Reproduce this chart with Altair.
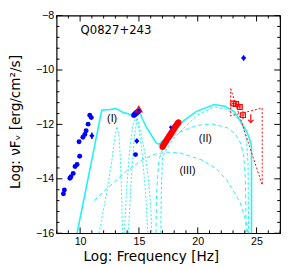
import altair as alt
import pandas as pd

# ---------------- data ----------------
# radio / IR / optical (blue dots)
blue_x = [8.58, 8.66, 9.13, 9.22, 9.41, 9.57, 9.74, 9.96, 9.91, 10.24, 10.40, 10.51, 10.68, 10.82, 10.95]
blue_y = [-14.55, -14.41, -13.98, -13.92, -13.80, -13.55, -13.47, -13.17, -12.64, -12.47, -12.37, -12.23, -11.99, -11.66, -11.75]
# blue points with error bars
blueerr_x = [11.0, 14.82]
blueerr_y = [-12.42, -12.61]
blueerr_e = [0.12, 0.08]
blue_single_x = [14.71]
blue_single_y = [-13.11]
# optical/UV spectrum (blue blob)
uv_x = [14.57, 14.62, 14.67, 14.72, 14.77, 14.82, 14.87, 14.92, 14.97]
uv_y = [-11.66, -11.64, -11.62, -11.60, -11.58, -11.56, -11.54, -11.52, -11.50]
# open red triangle
tri_x = [14.99]
tri_y = [-11.44]
# X-ray spectrum (red)
xr_x = [17.0, 17.08, 17.16, 17.24, 17.32, 17.4, 17.48, 17.56, 17.64, 17.72, 17.8, 17.88, 17.96, 18.04, 18.12, 18.2, 18.28, 18.36]
xr_y = [-12.82, -12.77, -12.71, -12.66, -12.61, -12.55, -12.50, -12.44, -12.39, -12.34, -12.28, -12.23, -12.18, -12.12, -12.07, -12.02, -11.97, -11.93]
# small blue point over X-ray
xb_x = [17.7]
xb_y = [-12.1]
# Fermi points (open red squares)
fermi_x = [23.02, 23.27, 23.58, 23.85]
fermi_y = [-11.23, -11.25, -11.36, -11.66]
fermi_ey = [0.11, 0.1, 0.1, 0.15]
fermi_ex = [0.12, 0.12, 0.12, 0.12]
# Fermi upper limit
ul_x = [24.51]
ul_top = [-11.63]
ul_bot = [-11.93]
# red dotted bow tie (outline)
bow_x = [22.8, 23.5, 25.48, 25.48, 23.5, 22.8, 22.8]
bow_y = [-10.69, -11.61, -11.40, -14.23, -11.61, -11.69, -10.69]
# blue diamond (top)
dia_x = [23.9]
dia_y = [-9.56]

# model curves (cyan)
tot_x = [9.74, 11.84, 12.58, 13.0, 13.27, 13.6, 14.0, 14.52, 14.75, 15.07, 15.3, 15.62, 16.04, 16.45, 16.72, 17.0, 17.69, 18.8, 19.9, 21.42, 22.3, 23.08, 23.63, 24.18, 24.46, 24.57, 24.57]
tot_y = [-16.0, -11.48, -11.45, -11.42, -11.46, -11.55, -11.6, -11.69, -11.62, -11.55, -11.8, -12.09, -12.38, -12.67, -12.73, -12.61, -12.33, -11.86, -11.52, -11.27, -11.33, -11.52, -11.87, -12.27, -12.61, -12.8, -16.0]

s1_x = [11.6, 12.31, 12.72, 12.95, 13.12, 13.3, 13.42, 13.52, 13.6]
s1_y = [-16.0, -14.4, -13.25, -12.45, -12.08, -12.4, -13.25, -14.4, -16.0]
s2_x = [13.75, 13.95, 14.2, 14.45, 14.7, 14.95, 15.25, 15.55, 15.76]
s2_y = [-16.0, -14.4, -13.0, -12.1, -11.7, -12.0, -13.0, -14.4, -16.0]
s3_x = [14.1, 14.35, 14.6, 14.85, 15.1, 15.5, 15.8, 16.0, 16.1]
s3_y = [-16.0, -14.0, -12.5, -11.75, -12.2, -13.0, -14.0, -15.0, -16.0]

ec_x = [16.86, 16.9, 17.0, 17.5, 18.0, 18.9, 20.0, 21.4, 22.5, 23.1, 23.6, 23.9, 24.15, 24.28, 24.32]
ec_y = [-16.0, -14.5, -13.2, -12.8, -12.5, -12.1, -11.65, -11.35, -11.45, -11.63, -11.9, -12.15, -12.6, -13.5, -16.0]
c2_x = [16.45, 16.5, 16.7, 17.1, 18.2, 19.9, 21.2, 22.5, 23.2, 23.6, 23.9, 24.05, 24.12]
c2_y = [-16.0, -14.5, -13.3, -12.8, -12.33, -12.04, -11.98, -12.12, -12.35, -12.65, -13.1, -14.0, -16.0]
c3_x = [11.2, 12.3, 14.0, 15.3, 16.3, 17.4, 18.5, 20.3, 21.5, 22.5, 23.6, 24.0, 24.27]
c3_y = [-14.8, -14.35, -13.7, -13.3, -13.1, -13.02, -13.05, -13.3, -13.6, -14.06, -14.87, -15.4, -16.0]

lab_text = ["(I)", "(II)", "(III)"]
lab_x = [12.72, 20.65, 19.13]
lab_y = [-11.82, -12.53, -13.72]
name_text = ["Q0827+243"]
name_x = [10.04]
name_y = [-8.52]

x_major = [10, 15, 20, 25]
x_minor = [8, 9, 11, 12, 13, 14, 16, 17, 18, 19, 21, 22, 23, 24, 26, 27]
y_major = [-16, -14, -12, -10, -8]
y_minor = [-15.6, -15.2, -14.8, -14.4, -13.6, -13.2, -12.8, -12.4, -11.6, -11.2, -10.8, -10.4, -9.6, -9.2, -8.8, -8.4]

# ---------------- chart ----------------
W, H = 230, 224
CYAN = "#22f2f2"
BLUE = "#0000ff"
RED = "#ff0000"

xs = alt.Scale(domain=[8, 27], nice=False, zero=False)
ys = alt.Scale(domain=[-16, -8], nice=False, zero=False)

XTITLE = "Log: Frequency [Hz]"
YTITLE = "Log: \u03bdF\u1d65 [erg/cm\u00b2/s]"

xaxis = alt.Axis(values=x_major, format="d", ticks=False, grid=False, domain=False,
                 labelFont="Liberation Sans", labelFontSize=11, labelColor="black", labelPadding=3,
                 title=XTITLE, titleFont="DejaVu Sans", titleFontSize=14,
                 titleFontWeight="normal", titleColor="black", titleX=97, titleY=28,
                 titleBaseline="alphabetic", titleAlign="center")
yaxis = alt.Axis(values=y_major, format="d", ticks=False, grid=False, domain=False,
                 labelFont="Liberation Sans", labelFontSize=11, labelColor="black", labelPadding=3,
                 title=YTITLE, titleFont="DejaVu Sans", titleFontSize=14,
                 titleFontWeight="normal", titleColor="black", titleX=-42, titleY=H / 2 - 3,
                 titleBaseline="middle", titleAlign="center", titleAngle=-90)


def XF(f):
    return alt.X(f"{f}:Q", scale=xs, axis=xaxis, title=XTITLE)


def YF(f):
    return alt.Y(f"{f}:Q", scale=ys, axis=yaxis, title=YTITLE)


def df(xv, yv, **extra):
    d = pd.DataFrame({"x": xv, "y": yv})
    d["i"] = range(len(d))
    for k, v in extra.items():
        d[k] = v
    return d


def curve(xv, yv, dash, width):
    kw = dict(color=CYAN, strokeWidth=width, clip=True)
    if dash:
        kw["strokeDash"] = dash
    return alt.Chart(df(xv, yv)).mark_line(**kw).encode(x=XF("x"), y=YF("y"), order="i:Q")


def dots(xv, yv, shape, color, size, filled=True, sw=1):
    return alt.Chart(df(xv, yv)).mark_point(shape=shape, filled=filled, color=color, size=size,
                                             strokeWidth=sw, opacity=1).encode(x=XF("x"), y=YF("y"))


def vbars(d, color, sw):
    return alt.Chart(d).mark_rule(color=color, strokeWidth=sw).encode(x=XF("x"), y=YF("lo"), y2="hi:Q")


layers = []
# model components
layers.append(curve(s1_x, s1_y, [2, 2], 1))
layers.append(curve(s2_x, s2_y, [2, 2], 1))
layers.append(curve(s3_x, s3_y, [2, 2], 1))
layers.append(curve(c3_x, c3_y, [4, 3], 1))
layers.append(curve(c2_x, c2_y, [4, 3], 1))
layers.append(curve(ec_x, ec_y, [3, 2], 1))
layers.append(curve(tot_x, tot_y, None, 1.6))

# bow tie
layers.append(alt.Chart(df(bow_x, bow_y)).mark_line(color=RED, strokeWidth=1, strokeDash=[2, 2]).encode(
    x=XF("x"), y=YF("y"), order="i:Q"))

# blue points
layers.append(dots(blue_x, blue_y, "circle", BLUE, 26))
be = df(blueerr_x, blueerr_y, e=blueerr_e)
be["lo"] = be["y"] - be["e"]
be["hi"] = be["y"] + be["e"]
layers.append(vbars(be, BLUE, 1.5))
layers.append(dots(blueerr_x, blueerr_y, "diamond", BLUE, 30))
layers.append(dots(blue_single_x, blue_single_y, "circle", BLUE, 26))
layers.append(dots(uv_x, uv_y, "circle", BLUE, 30))
layers.append(dots(tri_x, tri_y, "triangle-up", RED, 45, filled=False, sw=1.2))

# X-ray
xr = df(xr_x, xr_y)
xr["lo"] = xr["y"] - 0.12
xr["hi"] = xr["y"] + 0.12
layers.append(vbars(xr, RED, 1.5))
layers.append(dots(xr_x, xr_y, "circle", RED, 40))
layers.append(dots(xb_x, xb_y, "diamond", BLUE, 14))

# Fermi
fe = df(fermi_x, fermi_y, ey=fermi_ey, ex=fermi_ex)
fe["lo"] = fe["y"] - fe["ey"]
fe["hi"] = fe["y"] + fe["ey"]
fe["l"] = fe["x"] - fe["ex"]
fe["r"] = fe["x"] + fe["ex"]
layers.append(vbars(fe, RED, 1))
layers.append(alt.Chart(fe).mark_rule(color=RED, strokeWidth=1).encode(x=XF("l"), x2="r:Q", y=YF("y")))
layers.append(dots(fermi_x, fermi_y, "square", RED, 24, filled=False, sw=1.2))
ul = pd.DataFrame({"x": ul_x, "lo": ul_bot, "hi": ul_top})
layers.append(vbars(ul, RED, 1.2))
layers.append(alt.Chart(ul).mark_point(shape="M-1,-1L0,0L1,-1", filled=False, color=RED, size=30,
                                       strokeWidth=1.2, opacity=1).encode(x=XF("x"), y=YF("lo")))

# blue diamond top
de = df(dia_x, dia_y)
de["lo"] = de["y"] - 0.1
de["hi"] = de["y"] + 0.1
layers.append(vbars(de, BLUE, 1.2))
layers.append(dots(dia_x, dia_y, "diamond", BLUE, 30))

# labels
lab = pd.DataFrame({"x": lab_x, "y": lab_y, "t": lab_text})
layers.append(alt.Chart(lab).mark_text(font="Liberation Sans", fontSize=11, color="black", align="center",
                                       baseline="middle").encode(x=XF("x"), y=YF("y"), text="t:N"))
nm = pd.DataFrame({"x": name_x, "y": name_y, "t": name_text})
layers.append(alt.Chart(nm).mark_text(font="DejaVu Sans", fontSize=12, color="black", align="left",
                                      baseline="middle").encode(x=XF("x"), y=YF("y"), text="t:N"))


# inward ticks on all four sides
def xticks(vals, ln):
    d = pd.DataFrame({"x": vals})
    b = alt.Chart(d).mark_rule(color="black", strokeWidth=1).encode(x=XF("x"), y=alt.value(H), y2=alt.value(H - ln))
    t = alt.Chart(d).mark_rule(color="black", strokeWidth=1).encode(x=XF("x"), y=alt.value(0), y2=alt.value(ln))
    return [b, t]


def yticks(vals, ln):
    d = pd.DataFrame({"y": vals})
    l = alt.Chart(d).mark_rule(color="black", strokeWidth=1).encode(y=YF("y"), x=alt.value(0), x2=alt.value(ln))
    r = alt.Chart(d).mark_rule(color="black", strokeWidth=1).encode(y=YF("y"), x=alt.value(W), x2=alt.value(W - ln))
    return [l, r]


layers += xticks(x_major, 6) + xticks(x_minor, 3) + yticks(y_major, 6) + yticks(y_minor, 3)

chart = alt.layer(*layers).properties(
    width=W, height=H,
    autosize=alt.AutoSizeParams(type="none"),
    padding={"left": 50, "top": 4, "right": 3, "bottom": 33},
    background="white",
).configure_view(stroke="black", strokeWidth=1.2)

chart.save("out.html", embed_options={"renderer": "svg", "actions": False})
